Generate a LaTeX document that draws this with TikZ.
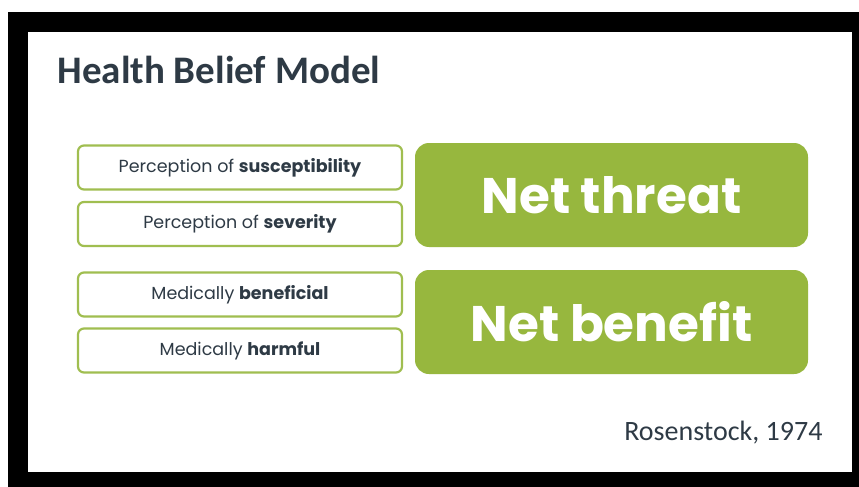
\documentclass[tikz,border=0pt]{standalone}
\usepackage{fontspec}
\setmainfont{Carlito}
\newfontfamily\boxfont{Poppins}
\begin{document}
\begin{tikzpicture}[x=1pt,y=-1pt,
  slidetext/.style={text=textslate},
  factorbox/.style={draw=leafline,line width=2.2pt,rounded corners=6pt,fill=white,
    minimum width=324pt,minimum height=44pt,inner sep=0pt,
    font=\boxfont\fontsize{17.5}{20}\selectfont,text=textslate},
  netbox/.style={fill=leaf,rounded corners=14pt,minimum width=393pt,minimum height=104pt,
    inner sep=0pt,font=\boxfont\bfseries\fontsize{50}{56}\selectfont,text=white}]
\definecolor{leaf}{RGB}{151,183,62}
\definecolor{leafline}{RGB}{160,190,80}
\definecolor{textslate}{RGB}{46,58,69}
% canvas, black frame and white slide
\useasboundingbox (0,0) rectangle (859,487);
\fill[white] (0,0) rectangle (859,487);
\fill[black] (8,12) rectangle (859,487);
\fill[white] (28,32) rectangle (852,472);
% title
\node[slidetext,anchor=base west,font=\bfseries\fontsize{39}{46}\selectfont] (title) at (54,84) {Health Belief Model};
% factor boxes
\node[factorbox] (sus) at (240,167.5) {Perception of \textbf{susceptibility}};
\node[factorbox] (sev) at (240,224) {Perception of \textbf{severity}};
\node[factorbox] (ben) at (240,294.5) {Medically \textbf{beneficial}};
\node[factorbox] (harm) at (240,350.5) {Medically \textbf{harmful}};
% outcome boxes
\node[netbox] (threat) at (611.5,195) {Net threat};
\node[netbox] (benefit) at (611.5,322) {Net benefit};
% citation
\node[slidetext,anchor=base east,font=\fontsize{28}{32}\selectfont] (cite) at (826,440) {Rosenstock, 1974};
\end{tikzpicture}
\end{document}
